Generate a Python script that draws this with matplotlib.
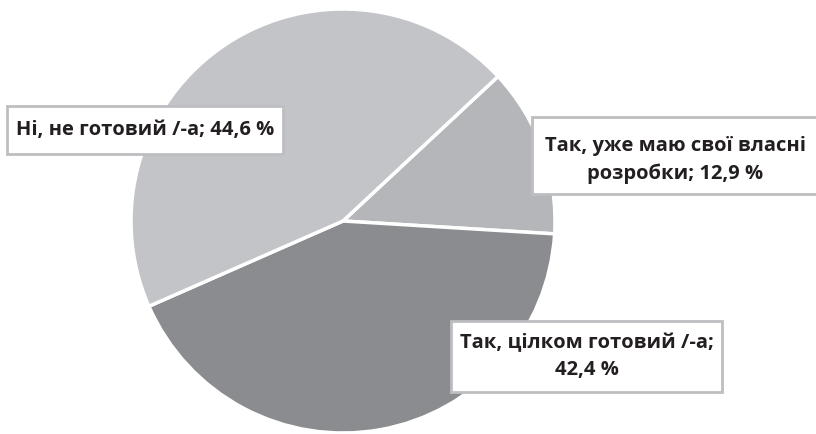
import matplotlib
matplotlib.use("Agg")
import matplotlib.pyplot as plt
from matplotlib.patches import Rectangle

labels = ["Так, уже маю свої власні\nрозробки; 12,9 %",
          "Так, цілком готовий /-а;\n42,4 %",
          "Ні, не готовий /-а; 44,6 %"]
values = [12.9, 42.4, 44.6]
colors = ["#b5b6b9", "#8b8c90", "#c3c4c7"]

W, H = 816, 435
fig = plt.figure(figsize=(W / 100, H / 100), dpi=100)
ax = fig.add_axes([0, 0, 1, 1])
ax.pie(values, colors=colors, startangle=43, counterclock=False,
       center=(343, H - 222), radius=212,
       wedgeprops=dict(edgecolor="white", linewidth=2.5))
ax.set_xlim(0, W)
ax.set_ylim(0, H)
ax.set_aspect("equal")
ax.axis("off")

# label boxes (x0, y0_top, x1, y1_bottom) in pixel coords, text centre y
boxes = [(532, 118, 818, 195, 160), (451, 322, 722, 393, 357), (7, 107, 283, 155, 130)]
for (x0, y0, x1, y1, ty), lab in zip(boxes, labels):
    ax.add_patch(Rectangle((x0, H - y1), x1 - x0, y1 - y0, facecolor="white",
                           edgecolor="#bdbec1", linewidth=2, zorder=3))
    ax.text((x0 + x1) / 2, H - ty, lab, ha="center", va="center",
            fontsize=14.5, fontweight="bold", family="Open Sans", color="#231f20",
            linespacing=1.45, zorder=4)

fig.savefig("out.png", dpi=100)
